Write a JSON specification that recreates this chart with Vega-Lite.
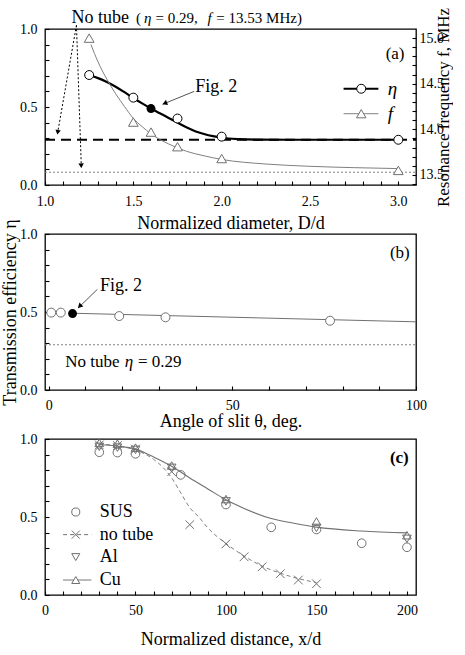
{
  "$schema": "https://vega.github.io/schema/vega-lite/v6.json",
  "background": "white",
  "padding": {"left": 0, "top": 6, "right": 0, "bottom": 0},
  "bounds": "flush",
  "spacing": 49,
  "config": {
    "font": "Liberation Serif",
    "view": {"stroke": "black", "strokeWidth": 1.3},
    "axis": {"domain": false, "grid": false, "labelFont": "Liberation Serif", "labelFontSize": 14, "labelColor": "black", "titleFont": "Liberation Serif", "titleFontSize": 18, "titleFontWeight": "normal", "titleColor": "black", "tickColor": "black", "tickWidth": 1.1},
    "text": {"font": "Liberation Serif", "color": "black"}
  },
  "datasets": {
    "a_eta_fit": [
      {"x": 1.25, "y": 0.705}, {"x": 1.3, "y": 0.685}, {"x": 1.35, "y": 0.66}, {"x": 1.4, "y": 0.63}, {"x": 1.45, "y": 0.595},
      {"x": 1.5, "y": 0.558}, {"x": 1.55, "y": 0.523}, {"x": 1.6, "y": 0.49}, {"x": 1.65, "y": 0.46}, {"x": 1.7, "y": 0.43},
      {"x": 1.75, "y": 0.40}, {"x": 1.8, "y": 0.37}, {"x": 1.85, "y": 0.345}, {"x": 1.9, "y": 0.327}, {"x": 1.95, "y": 0.313},
      {"x": 2.0, "y": 0.303}, {"x": 2.1, "y": 0.294}, {"x": 2.2, "y": 0.291}, {"x": 2.4, "y": 0.29}, {"x": 3.0, "y": 0.29}
    ],
    "a_eta_pts": [
      {"x": 1.25, "y": 0.705}, {"x": 1.5, "y": 0.56}, {"x": 1.75, "y": 0.426}, {"x": 2.0, "y": 0.31}, {"x": 3.0, "y": 0.29}
    ],
    "a_eta_fig2": [{"x": 1.6, "y": 0.49}],
    "a_eta_notube": [{"x": 1, "x2": 3.1, "y": 0.29}],
    "a_f_fit": [
      {"x": 1.26, "y": 14.93}, {"x": 1.3, "y": 14.74}, {"x": 1.35, "y": 14.55}, {"x": 1.4, "y": 14.39}, {"x": 1.45, "y": 14.25},
      {"x": 1.5, "y": 14.12}, {"x": 1.55, "y": 14.03}, {"x": 1.6, "y": 13.95}, {"x": 1.7, "y": 13.84}, {"x": 1.8, "y": 13.76},
      {"x": 1.9, "y": 13.71}, {"x": 2.0, "y": 13.67}, {"x": 2.25, "y": 13.62}, {"x": 2.5, "y": 13.595}, {"x": 2.75, "y": 13.58},
      {"x": 3.0, "y": 13.57}
    ],
    "a_f_pts": [
      {"x": 1.25, "y": 15.0}, {"x": 1.5, "y": 14.08}, {"x": 1.6, "y": 13.97}, {"x": 1.75, "y": 13.81}, {"x": 2.0, "y": 13.68}, {"x": 3.0, "y": 13.55}
    ],
    "a_f_notube": [{"x": 1, "x2": 3.1, "y": 13.53}],
    "a_leg_eta_line": [{"x": 2.69, "x2": 2.887, "y": 0.617}],
    "a_leg_f_line": [{"x": 2.69, "x2": 2.887, "y": 0.457}],
    "a_leg_eta_sym": [{"x": 2.79, "y": 0.617}],
    "a_leg_f_sym": [{"x": 2.79, "y": 0.457}],
    "a_leg_txt": [{"x": 2.94, "y": 0.617, "label": "η"}, {"x": 2.94, "y": 0.457, "label": "f"}],
    "a_arrows_notube": [
      {"x": 1.178, "y": 1.024, "x2": 1.069, "y2": 0.318},
      {"x": 1.178, "y": 1.024, "x2": 1.206, "y2": 0.105}
    ],
    "a_fig2_arrow": [{"x": 1.844, "y": 0.60, "x2": 1.665, "y2": 0.517}],
    "b_pts": [
      {"x": 0.7, "y": 0.496}, {"x": 3.3, "y": 0.496}, {"x": 19.2, "y": 0.474}, {"x": 31.8, "y": 0.466}, {"x": 76.6, "y": 0.444}
    ],
    "b_fig2": [{"x": 6.5, "y": 0.49}],
    "b_fit": [{"x": 6.5, "y": 0.492}, {"x": 100, "y": 0.437}],
    "b_notube": [{"x": -1, "x2": 100, "y": 0.29}],
    "b_fig2_arrow": [{"x": 13.24, "y": 0.645, "x2": 8.0, "y2": 0.525}],
    "c_pts": [
      {"series": "SUS", "x": 30, "y": 0.915}, {"series": "SUS", "x": 40, "y": 0.913}, {"series": "SUS", "x": 50, "y": 0.905},
      {"series": "SUS", "x": 75, "y": 0.77}, {"series": "SUS", "x": 100, "y": 0.58}, {"series": "SUS", "x": 125, "y": 0.434},
      {"series": "SUS", "x": 150, "y": 0.42}, {"series": "SUS", "x": 175, "y": 0.332}, {"series": "SUS", "x": 200, "y": 0.306},
      {"series": "no tube", "x": 30, "y": 0.962}, {"series": "no tube", "x": 40, "y": 0.958}, {"series": "no tube", "x": 50, "y": 0.935},
      {"series": "no tube", "x": 70, "y": 0.79}, {"series": "no tube", "x": 80, "y": 0.451}, {"series": "no tube", "x": 100, "y": 0.328},
      {"series": "no tube", "x": 110, "y": 0.245}, {"series": "no tube", "x": 120, "y": 0.181}, {"series": "no tube", "x": 130, "y": 0.136},
      {"series": "no tube", "x": 140, "y": 0.096}, {"series": "no tube", "x": 150, "y": 0.072},
      {"series": "Al", "x": 30, "y": 0.95}, {"series": "Al", "x": 40, "y": 0.945}, {"series": "Al", "x": 50, "y": 0.93},
      {"series": "Al", "x": 70, "y": 0.815}, {"series": "Al", "x": 100, "y": 0.60}, {"series": "Al", "x": 150, "y": 0.43},
      {"series": "Al", "x": 200, "y": 0.36},
      {"series": "Cu", "x": 30, "y": 0.975}, {"series": "Cu", "x": 40, "y": 0.97}, {"series": "Cu", "x": 50, "y": 0.945},
      {"series": "Cu", "x": 70, "y": 0.83}, {"series": "Cu", "x": 100, "y": 0.615}, {"series": "Cu", "x": 150, "y": 0.472},
      {"series": "Cu", "x": 200, "y": 0.383}
    ],
    "c_fit_metal": [
      {"x": 30, "y": 0.965}, {"x": 40, "y": 0.955}, {"x": 50, "y": 0.935}, {"x": 60, "y": 0.885}, {"x": 70, "y": 0.825},
      {"x": 80, "y": 0.75}, {"x": 90, "y": 0.68}, {"x": 100, "y": 0.61}, {"x": 110, "y": 0.555}, {"x": 125, "y": 0.49},
      {"x": 137.5, "y": 0.46}, {"x": 150, "y": 0.435}, {"x": 175, "y": 0.41}, {"x": 200, "y": 0.398}
    ],
    "c_fit_notube": [
      {"x": 30, "y": 0.97}, {"x": 40, "y": 0.955}, {"x": 50, "y": 0.93}, {"x": 55, "y": 0.905}, {"x": 60, "y": 0.87},
      {"x": 65, "y": 0.82}, {"x": 70, "y": 0.75}, {"x": 75, "y": 0.655}, {"x": 80, "y": 0.56}, {"x": 85, "y": 0.50},
      {"x": 90, "y": 0.43}, {"x": 95, "y": 0.375}, {"x": 100, "y": 0.33}, {"x": 110, "y": 0.25}, {"x": 120, "y": 0.185},
      {"x": 130, "y": 0.14}, {"x": 140, "y": 0.105}, {"x": 150, "y": 0.08}
    ],
    "c_leg_sym": [
      {"series": "SUS", "x": 17, "y": 0.532},
      {"series": "no tube", "x": 17, "y": 0.387},
      {"series": "Al", "x": 17, "y": 0.243},
      {"series": "Cu", "x": 17, "y": 0.096}
    ],
    "c_leg_txt": [
      {"series": "SUS", "x": 30.2, "y": 0.532},
      {"series": "no tube", "x": 30.2, "y": 0.387},
      {"series": "Al", "x": 30.2, "y": 0.243},
      {"series": "Cu", "x": 30.2, "y": 0.096}
    ],
    "c_leg_lines": [
      {"series": "no tube", "x": 10, "x2": 25.6, "y": 0.387},
      {"series": "Cu", "x": 10, "x2": 25.6, "y": 0.096}
    ]
  },
  "vconcat": [
    {
      "width": 371,
      "height": 156,
      "resolve": {"scale": {"y": "independent"}},
      "layer": [
        {
          "encoding": {
            "x": {"field": "x", "type": "quantitative", "title": "Normalized diameter, D/d",
              "scale": {"domain": [1, 3.1], "nice": false, "zero": false},
              "axis": {"values": [1, 1.1, 1.2, 1.3, 1.4, 1.5, 1.6, 1.7, 1.8, 1.9, 2, 2.1, 2.2, 2.3, 2.4, 2.5, 2.6, 2.7, 2.8, 2.9, 3],
                "labelExpr": "datum.value == 1 || datum.value == 1.5 || datum.value == 2 || datum.value == 2.5 || datum.value == 3 ? format(datum.value, '.1f') : ''",
                "tickSize": -4, "labelOverlap": false, "labelFlush": false, "labelPadding": 13, "titlePadding": 6}},
            "y": {"field": "y", "type": "quantitative", "title": null,
              "scale": {"domain": [0, 1], "nice": false, "zero": false},
              "axis": {"values": [0, 0.1, 0.2, 0.3, 0.4, 0.5, 0.6, 0.7, 0.8, 0.9, 1],
                "labelExpr": "datum.value == 0 || datum.value == 0.5 || datum.value == 1 ? format(datum.value, '.1f') : ''",
                "tickSize": -4, "labelOverlap": false, "labelFlush": false, "labelPadding": 12}}
          },
          "layer": [
            {"data": {"name": "a_eta_fit"}, "mark": {"type": "line", "color": "black", "strokeWidth": 2.2, "interpolate": "monotone"}},
            {"data": {"name": "a_eta_notube"}, "mark": {"type": "rule", "color": "black", "strokeWidth": 1.8, "strokeDash": [10, 6]}, "encoding": {"x2": {"field": "x2"}}},
            {"data": {"name": "a_eta_pts"}, "mark": {"type": "point", "shape": "circle", "size": 80, "filled": true, "fill": "white", "stroke": "black", "strokeWidth": 1, "opacity": 1}},
            {"data": {"name": "a_eta_fig2"}, "mark": {"type": "point", "shape": "circle", "size": 80, "filled": true, "color": "black", "opacity": 1}},
            {"data": {"name": "a_leg_eta_line"}, "mark": {"type": "rule", "color": "black", "strokeWidth": 2.2}, "encoding": {"x2": {"field": "x2"}}},
            {"data": {"name": "a_leg_f_line"}, "mark": {"type": "rule", "color": "#808080", "strokeWidth": 1}, "encoding": {"x2": {"field": "x2"}}},
            {"data": {"name": "a_leg_eta_sym"}, "mark": {"type": "point", "shape": "circle", "size": 80, "filled": true, "fill": "white", "stroke": "black", "strokeWidth": 1, "opacity": 1}},
            {"data": {"name": "a_leg_f_sym"}, "mark": {"type": "point", "shape": "triangle-up", "size": 90, "filled": true, "fill": "white", "stroke": "#707070", "strokeWidth": 1, "opacity": 1}},
            {"data": {"name": "a_leg_txt"}, "mark": {"type": "text", "fontSize": 19, "fontStyle": "italic", "align": "left", "baseline": "middle"}, "encoding": {"text": {"field": "label"}}},
            {"data": {"name": "a_fig2_arrow"}, "mark": {"type": "rule", "color": "#555555", "strokeWidth": 1}, "encoding": {"x2": {"field": "x2"}, "y2": {"field": "y2"}}},
            {"data": {"values": [{"x": 1.678, "y": 0.524}]}, "mark": {"type": "point", "shape": "triangle-up", "size": 30, "filled": true, "color": "black", "angle": 248, "opacity": 1}},
            {"data": {"values": [{"x": 1.851, "y": 0.628, "label": "Fig. 2"}]}, "mark": {"type": "text", "fontSize": 18, "align": "left", "baseline": "middle"}, "encoding": {"text": {"field": "label"}}},
            {"data": {"name": "a_arrows_notube"}, "mark": {"type": "rule", "color": "black", "strokeWidth": 1, "strokeDash": [2, 2]}, "encoding": {"x2": {"field": "x2"}, "y2": {"field": "y2"}}},
            {"data": {"values": [{"x": 1.072, "y": 0.338}]}, "mark": {"type": "point", "shape": "triangle-up", "size": 30, "filled": true, "color": "black", "angle": 190, "opacity": 1}},
            {"data": {"values": [{"x": 1.205, "y": 0.124}]}, "mark": {"type": "point", "shape": "triangle-up", "size": 30, "filled": true, "color": "black", "angle": 178, "opacity": 1}},
            {"data": {"values": [{"x": 1.15, "y": 1.04, "label": "No tube"}]}, "mark": {"type": "text", "fontSize": 18, "align": "left", "baseline": "alphabetic"}, "encoding": {"text": {"field": "label"}}},
            {"data": {"values": [{"x": 1.515, "y": 1.04, "label": "("}, {"x": 1.625, "y": 1.04, "label": "= 0.29,"}, {"x": 1.97, "y": 1.04, "label": "= 13.53 MHz)"}]}, "mark": {"type": "text", "fontSize": 15, "align": "left", "baseline": "alphabetic"}, "encoding": {"text": {"field": "label"}}},
            {"data": {"values": [{"x": 1.56, "y": 1.04, "label": "η"}, {"x": 1.92, "y": 1.04, "label": "f"}]}, "mark": {"type": "text", "fontSize": 15, "fontStyle": "italic", "align": "left", "baseline": "alphabetic"}, "encoding": {"text": {"field": "label"}}},
            {"data": {"values": [{"x": 3.035, "y": 0.84, "label": "(a)"}]}, "mark": {"type": "text", "fontSize": 17, "align": "right", "baseline": "middle"}, "encoding": {"text": {"field": "label"}}}
          ]
        },
        {
          "encoding": {
            "x": {"field": "x", "type": "quantitative", "title": "Normalized diameter, D/d",
              "scale": {"domain": [1, 3.1], "nice": false, "zero": false},
              "axis": {"values": [1, 1.1, 1.2, 1.3, 1.4, 1.5, 1.6, 1.7, 1.8, 1.9, 2, 2.1, 2.2, 2.3, 2.4, 2.5, 2.6, 2.7, 2.8, 2.9, 3],
                "labelExpr": "datum.value == 1 || datum.value == 1.5 || datum.value == 2 || datum.value == 2.5 || datum.value == 3 ? format(datum.value, '.1f') : ''",
                "tickSize": -4, "labelOverlap": false, "labelFlush": false, "labelPadding": 13, "titlePadding": 6}},
            "y": {"field": "y", "type": "quantitative", "title": "Resonance frequency f, MHz",
              "scale": {"domain": [13.39, 15.1], "nice": false, "zero": false},
              "axis": {"orient": "right", "values": [13.4, 13.5, 13.6, 13.7, 13.8, 13.9, 14.0, 14.1, 14.2, 14.3, 14.4, 14.5, 14.6, 14.7, 14.8, 14.9, 15.0],
                "labelExpr": "datum.value == 13.5 || datum.value == 14 || datum.value == 14.5 || datum.value == 15 ? format(datum.value, '.1f') : ''",
                "tickSize": -4, "labelOverlap": false, "labelFlush": false, "labelPadding": 7, "titleAngle": 270, "titlePadding": 9, "titleFontSize": 17}}
          },
          "layer": [
            {"data": {"name": "a_f_fit"}, "mark": {"type": "line", "color": "#808080", "strokeWidth": 1, "interpolate": "monotone"}},
            {"data": {"name": "a_f_notube"}, "mark": {"type": "rule", "color": "#808080", "strokeWidth": 1, "strokeDash": [2, 2]}, "encoding": {"x2": {"field": "x2"}}},
            {"data": {"name": "a_f_pts"}, "mark": {"type": "point", "shape": "triangle-up", "size": 95, "filled": true, "fill": "white", "stroke": "#707070", "strokeWidth": 1, "opacity": 1}}
          ]
        }
      ]
    },
    {
      "width": 371,
      "height": 156,
      "encoding": {
        "x": {"field": "x", "type": "quantitative", "title": "Angle of slit θ, deg.",
          "scale": {"domain": [-1, 100], "nice": false, "zero": false},
          "axis": {"values": [0, 10, 20, 30, 40, 50, 60, 70, 80, 90, 100],
            "labelExpr": "datum.value % 50 == 0 ? datum.label : ''",
            "tickSize": -4, "labelOverlap": false, "labelFlush": false, "labelPadding": 12, "titlePadding": 0}},
        "y": {"field": "y", "type": "quantitative", "title": "Transmission efficiency η",
          "scale": {"domain": [0, 1], "nice": false, "zero": false},
          "axis": {"values": [0, 0.1, 0.2, 0.3, 0.4, 0.5, 0.6, 0.7, 0.8, 0.9, 1],
            "labelExpr": "datum.value == 0 || datum.value == 0.5 || datum.value == 1 ? format(datum.value, '.1f') : ''",
            "tickSize": -4, "labelOverlap": false, "labelFlush": false, "labelPadding": 12, "titlePadding": 0}}
      },
      "layer": [
        {"data": {"name": "b_notube"}, "mark": {"type": "rule", "color": "#808080", "strokeWidth": 1, "strokeDash": [2, 2]}, "encoding": {"x2": {"field": "x2"}}},
        {"data": {"name": "b_fit"}, "mark": {"type": "line", "color": "#707070", "strokeWidth": 1}},
        {"data": {"name": "b_pts"}, "mark": {"type": "point", "shape": "circle", "size": 80, "filled": true, "fill": "white", "stroke": "#707070", "strokeWidth": 1, "opacity": 1}},
        {"data": {"name": "b_fig2"}, "mark": {"type": "point", "shape": "circle", "size": 80, "filled": true, "color": "black", "opacity": 1}},
        {"data": {"name": "b_fig2_arrow"}, "mark": {"type": "rule", "color": "#555555", "strokeWidth": 1}, "encoding": {"x2": {"field": "x2"}, "y2": {"field": "y2"}}},
        {"data": {"values": [{"x": 8.43, "y": 0.537}]}, "mark": {"type": "point", "shape": "triangle-up", "size": 30, "filled": true, "color": "black", "angle": 226, "opacity": 1}},
        {"data": {"values": [{"x": 14.0, "y": 0.669, "label": "Fig. 2"}]}, "mark": {"type": "text", "fontSize": 18, "align": "left", "baseline": "middle"}, "encoding": {"text": {"field": "label"}}},
        {"data": {"values": [{"x": 4.5, "y": 0.15, "label": "No tube"}, {"x": 24.3, "y": 0.15, "label": "= 0.29"}]}, "mark": {"type": "text", "fontSize": 17, "align": "left", "baseline": "alphabetic"}, "encoding": {"text": {"field": "label"}}},
        {"data": {"values": [{"x": 20.7, "y": 0.15, "label": "η"}]}, "mark": {"type": "text", "fontSize": 17, "fontStyle": "italic", "align": "left", "baseline": "alphabetic"}, "encoding": {"text": {"field": "label"}}},
        {"data": {"values": [{"x": 98.3, "y": 0.88, "label": "(b)"}]}, "mark": {"type": "text", "fontSize": 17, "align": "right", "baseline": "middle"}, "encoding": {"text": {"field": "label"}}}
      ]
    },
    {
      "width": 371,
      "height": 156,
      "encoding": {
        "x": {"field": "x", "type": "quantitative", "title": "Normalized distance, x/d",
          "scale": {"domain": [0, 205], "nice": false, "zero": false},
          "axis": {"values": [0, 10, 20, 30, 40, 50, 60, 70, 80, 90, 100, 110, 120, 130, 140, 150, 160, 170, 180, 190, 200],
            "labelExpr": "datum.value % 50 == 0 ? datum.label : ''",
            "tickSize": -4, "labelOverlap": false, "labelFlush": false, "labelPadding": 12, "titlePadding": 13}},
        "y": {"field": "y", "type": "quantitative", "title": null,
          "scale": {"domain": [0, 1], "nice": false, "zero": false},
          "axis": {"values": [0, 0.1, 0.2, 0.3, 0.4, 0.5, 0.6, 0.7, 0.8, 0.9, 1],
            "labelExpr": "datum.value == 0 || datum.value == 0.5 || datum.value == 1 ? format(datum.value, '.1f') : ''",
            "tickSize": -4, "labelOverlap": false, "labelFlush": false, "labelPadding": 12}}
      },
      "layer": [
        {"data": {"name": "c_fit_notube"}, "mark": {"type": "line", "color": "#808080", "strokeWidth": 1, "strokeDash": [4, 3], "interpolate": "monotone"}},
        {"data": {"name": "c_fit_metal"}, "mark": {"type": "line", "color": "#707070", "strokeWidth": 1.1, "interpolate": "monotone"}},
        {"data": {"name": "c_leg_lines"}, "mark": {"type": "rule", "color": "#707070", "strokeWidth": 1},
          "encoding": {"x2": {"field": "x2"}, "strokeDash": {"field": "series", "type": "nominal", "scale": {"domain": ["no tube", "Cu"], "range": [[4, 3], [1, 0]]}, "legend": null}}},
        {"data": {"name": "c_pts"}, "mark": {"type": "point", "size": 75, "filled": false, "stroke": "#707070", "strokeWidth": 1, "opacity": 1},
          "encoding": {"shape": {"field": "series", "type": "nominal", "scale": {"domain": ["SUS", "no tube", "Al", "Cu"], "range": ["circle", "M-1,-1L1,1M-1,1L1,-1", "triangle-down", "triangle-up"]}, "legend": null}}},
        {"data": {"name": "c_leg_sym"}, "mark": {"type": "point", "size": 65, "filled": true, "fill": "white", "stroke": "#707070", "strokeWidth": 1, "opacity": 1},
          "encoding": {"shape": {"field": "series", "type": "nominal", "legend": null}}},
        {"data": {"name": "c_leg_txt"}, "mark": {"type": "text", "fontSize": 18, "align": "left", "baseline": "middle"}, "encoding": {"text": {"field": "series"}}},
        {"data": {"values": [{"x": 201, "y": 0.88, "label": "(c)"}]}, "mark": {"type": "text", "fontSize": 17, "fontWeight": "bold", "align": "right", "baseline": "middle"}, "encoding": {"text": {"field": "label"}}}
      ]
    }
  ]
}
